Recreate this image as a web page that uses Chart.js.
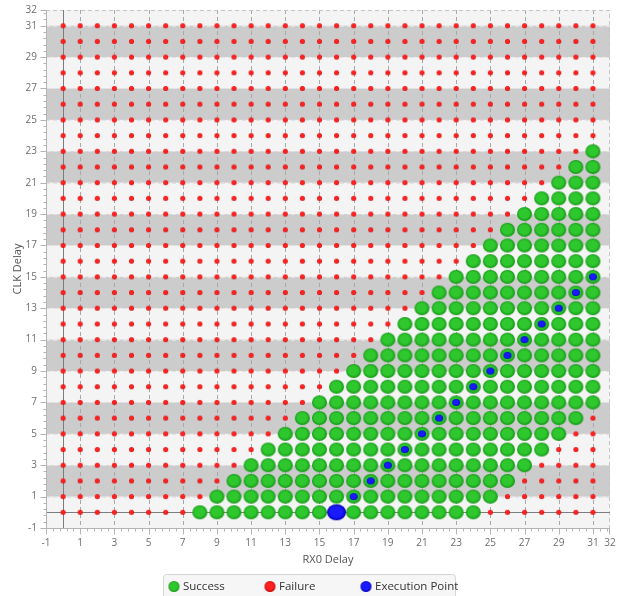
<!DOCTYPE html>
<html>
<head>
<meta charset="utf-8">
<style>
html, body { margin: 0; padding: 0; background: #fff; }
canvas { display: block; }
</style>
<script src="https://cdn.jsdelivr.net/npm/chart.js@4.4.1/dist/chart.umd.min.js"></script>
</head>
<body>
<canvas id="marginChart" width="618" height="596"></canvas>
<script>
// sweep grid (RX0 delay on x, CLK delay on y)
const rx0Delays = [0,1,2,3,4,5,6,7,8,9,10,11,12,13,14,15,16,17,18,19,20,21,22,23,24,25,26,27,28,29,30,31]
const clkDelays = [0,1,2,3,4,5,6,7,8,9,10,11,12,13,14,15,16,17,18,19,20,21,22,23,24,25,26,27,28,29,30,31]

// passing window for each CLK row 0..23 (rows above 23 all fail)
const passFirstRx0 = [8,9,10,11,12,13,14,15,16,17,18,19,20,21,22,23,24,25,26,27,28,29,30,31]
const passLastRx0  = [24,25,26,27,28,29,30,31,31,31,31,31,31,31,31,31,31,31,31,31,31,31,31,31]

// execution points (first one is the chosen point)
const execRx0 = [16,17,18,19,20,21,22,23,24,25,26,27,28,29,30,31]
const execClk = [0,1,2,3,4,5,6,7,8,9,10,11,12,13,14,15]

const xTickValues = [-1,1,3,5,7,9,11,13,15,17,19,21,23,25,27,29,31,32]
const yTickValues = [-1,1,3,5,7,9,11,13,15,17,19,21,23,25,27,29,31,32]

function isPass(rx, row) {
    if (row >= passFirstRx0.length) return false
    return rx >= passFirstRx0[row] && rx <= passLastRx0[row]
}

const successPts = []
const failurePts = []
clkDelays.forEach((clk, row) => {
    rx0Delays.forEach(rx => {
        if (isPass(rx, row)) successPts.push({ x: rx, y: clk })
        else failurePts.push({ x: rx, y: clk })
    })
})
const execPts = execRx0.map((rx, i) => ({ x: rx, y: execClk[i] }))

// shaded ellipse sprites used as point styles
function makeDot(w, h, inner, outer) {
    const c = document.createElement('canvas')
    c.width = w + 2
    c.height = h + 2
    const g = c.getContext('2d')
    g.translate(c.width / 2, c.height / 2)
    g.scale(1, h / w)
    const grad = g.createRadialGradient(-w * 0.08, -w * 0.1, 0, 0, 0, w / 2)
    grad.addColorStop(0, inner)
    grad.addColorStop(0.65, inner)
    grad.addColorStop(1, outer)
    g.fillStyle = grad
    g.beginPath()
    g.arc(0, 0, w / 2, 0, Math.PI * 2)
    g.fill()
    return c
}

const greenDot = makeDot(15, 14, '#2ec82e', '#149414')
const redDot = makeDot(5, 5, '#ff2020', '#d40000')
const blueDot = makeDot(8, 7, '#1a1aff', '#0000c0')
const bigBlueDot = makeDot(19, 16, '#1a1aff', '#0000b8')

const legendItems = [
    { text: 'Success', dot: makeDot(11, 11, '#2ec82e', '#149414') },
    { text: 'Failure', dot: makeDot(11, 11, '#ff2020', '#c80000') },
    { text: 'Execution Point', dot: makeDot(11, 11, '#1a1aff', '#0000b8') }
]

const gridBackdrop = {
    id: 'gridBackdrop',
    beforeDatasetsDraw(chart) {
        const { ctx, chartArea: a, scales: { x, y } } = chart
        ctx.save()
        ctx.fillStyle = '#f4f4f4'
        ctx.fillRect(a.left, a.top, a.right - a.left, a.bottom - a.top)

        // grey bands between every other pair of odd ticks, from 1 upwards
        const odd = yTickValues.filter(v => v >= 1 && v % 2 === 1)
        ctx.fillStyle = '#cccccc'
        for (let k = 0; k + 1 < odd.length; k += 2) {
            const top = y.getPixelForValue(odd[k + 1])
            const bot = y.getPixelForValue(odd[k])
            ctx.fillRect(a.left, top, a.right - a.left, bot - top)
        }

        ctx.lineWidth = 1
        ctx.setLineDash([4, 3])
        ctx.strokeStyle = '#e2e2e2'
        odd.forEach(v => {
            const py = Math.round(y.getPixelForValue(v)) + 0.5
            ctx.beginPath(); ctx.moveTo(a.left, py); ctx.lineTo(a.right, py); ctx.stroke()
        })
        ctx.strokeStyle = '#a8a8a8'
        xTickValues.filter(v => v >= 1 && v % 2 === 1).forEach(v => {
            const px = Math.round(x.getPixelForValue(v)) + 0.5
            ctx.beginPath(); ctx.moveTo(px, a.top); ctx.lineTo(px, a.bottom); ctx.stroke()
        })
        // top and right border
        ctx.strokeStyle = '#c4c4c4'
        ctx.beginPath()
        ctx.moveTo(a.left, a.top + 0.5); ctx.lineTo(a.right - 0.5, a.top + 0.5); ctx.lineTo(a.right - 0.5, a.bottom)
        ctx.stroke()
        ctx.setLineDash([])

        // zero lines
        ctx.strokeStyle = '#7c7c7c'
        const x0 = Math.round(x.getPixelForValue(0)) + 0.5
        const y0 = Math.round(y.getPixelForValue(0)) + 0.5
        ctx.beginPath(); ctx.moveTo(x0, a.top); ctx.lineTo(x0, a.bottom); ctx.stroke()
        ctx.beginPath(); ctx.moveTo(a.left, y0); ctx.lineTo(a.right, y0); ctx.stroke()

        // axis lines and tick marks (minor every 0.4)
        ctx.strokeStyle = '#b4b4b4'
        const lx = Math.round(a.left) + 0.5
        const by = Math.round(a.bottom) + 0.5
        ctx.beginPath(); ctx.moveTo(lx, a.top); ctx.lineTo(lx, a.bottom); ctx.stroke()
        ctx.beginPath(); ctx.moveTo(a.left, by); ctx.lineTo(a.right, by); ctx.stroke()
        for (let k = 0; k <= 83; k++) {
            const v = -1 + k * 0.4
            if (v > 32.001) break
            const major = Math.abs(v - Math.round(v)) < 0.01 && yTickValues.includes(Math.round(v))
            const len = major ? 6 : 3
            const py = Math.round(y.getPixelForValue(v)) + 0.5
            ctx.beginPath(); ctx.moveTo(lx - len, py); ctx.lineTo(lx, py); ctx.stroke()
            const px = Math.round(x.getPixelForValue(v)) + 0.5
            ctx.beginPath(); ctx.moveTo(px, by); ctx.lineTo(px, by + len); ctx.stroke()
        }
        const ey = Math.round(y.getPixelForValue(32)) + 0.5
        ctx.beginPath(); ctx.moveTo(lx - 6, ey); ctx.lineTo(lx, ey); ctx.stroke()
        const ex = Math.round(x.getPixelForValue(32)) - 0.5
        ctx.beginPath(); ctx.moveTo(ex, by); ctx.lineTo(ex, by + 6); ctx.stroke()
        ctx.restore()
    },
    afterDraw(chart) {
        const ctx = chart.ctx
        const cx = chart.width / 2
        ctx.save()
        ctx.fillStyle = '#f6f6f6'
        ctx.strokeStyle = '#d6d6d6'
        ctx.lineWidth = 1
        ctx.beginPath()
        ctx.roundRect(cx - 145.5, 574.5, 292, 30, 3)
        ctx.fill()
        ctx.stroke()
        ctx.font = '11.5px "Open Sans", sans-serif'
        ctx.textBaseline = 'middle'
        ctx.fillStyle = '#333'
        legendItems.forEach((it, i) => {
            const mx = cx - 135 + i * 96
            ctx.drawImage(it.dot, mx - it.dot.width / 2, 586.5 - it.dot.height / 2)
            ctx.fillText(it.text, mx + 9, 586.5)
        })
        ctx.restore()
    }
}

const tickFont = { family: '"Open Sans", sans-serif', size: 10 }
const titleFont = { family: '"Open Sans", sans-serif', size: 11 }

new Chart(document.getElementById('marginChart'), {
    type: 'scatter',
    data: {
        datasets: [{
            label: 'Execution Point',
            data: execPts,
            order: 0,
            pointStyle: ctx => ctx.dataIndex === 0 ? bigBlueDot : blueDot,
            pointRadius: 4
        }, {
            label: 'Success',
            data: successPts,
            order: 1,
            pointStyle: greenDot,
            pointRadius: 7
        }, {
            label: 'Failure',
            data: failurePts,
            order: 2,
            pointStyle: redDot,
            pointRadius: 2.5
        }]
    },
    options: {
        responsive: false,
        animation: false,
        events: [],
        layout: { padding: { top: 10, right: 5, left: 0, bottom: 26 } },
        plugins: {
            legend: { display: false },
            tooltip: { enabled: false }
        },
        scales: {
            x: {
                type: 'linear',
                min: -1,
                max: 32,
                afterBuildTicks: scale => { scale.ticks = xTickValues.map(v => ({ value: v })) },
                afterFit: scale => { scale.height = 42; scale.paddingLeft = 0; scale.paddingRight = 0 },
                grid: { display: false, drawTicks: false },
                border: { display: false },
                ticks: { autoSkip: false, maxRotation: 0, padding: 9, color: '#6e6e6e', font: tickFont },
                title: { display: true, text: 'RX0 Delay', color: '#555', font: titleFont, padding: { top: 0, bottom: 4 } }
            },
            y: {
                type: 'linear',
                min: -1,
                max: 32,
                afterBuildTicks: scale => { scale.ticks = yTickValues.map(v => ({ value: v })) },
                afterFit: scale => { scale.width = 46; scale.paddingTop = 0; scale.paddingBottom = 0 },
                grid: { display: false, drawTicks: false },
                border: { display: false },
                ticks: { autoSkip: false, padding: 9, color: '#6e6e6e', font: tickFont },
                title: { display: true, text: 'CLK Delay', color: '#555', font: titleFont, padding: { top: 11, bottom: 0 } }
            }
        }
    },
    plugins: [gridBackdrop]
})
</script>
</body>
</html>
